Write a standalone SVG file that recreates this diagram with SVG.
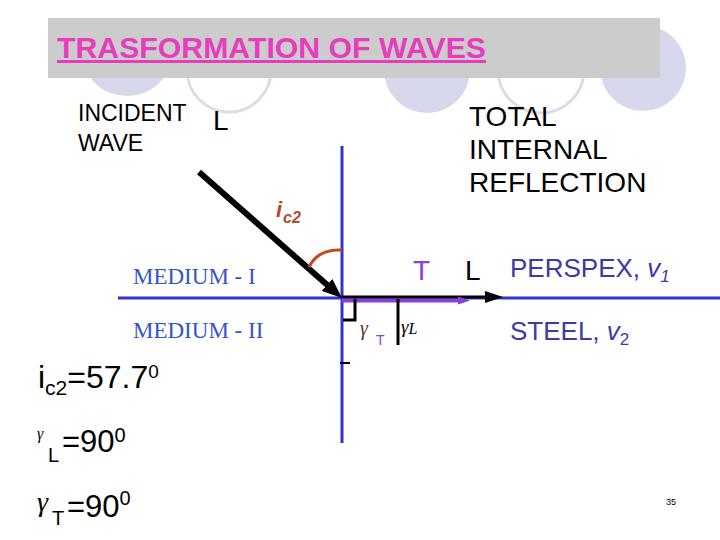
<svg xmlns="http://www.w3.org/2000/svg" width="720" height="540" viewBox="0 0 720 540">
<style>
.deco-f{fill:#d8d8ec;stroke:none}
.deco-o{fill:none;stroke:#dcdce9;stroke-width:3}
.sans{font-family:"Liberation Sans",Arial,sans-serif}
.serif{font-family:"Liberation Serif","Times New Roman",serif}
.blk{fill:#000}
.blue{fill:#3a3aa8}
.med{fill:#3355cc}
.purp{fill:#8a3fd8}
.red{fill:#b84a2a}
</style>
<defs>
<marker id="ahInc" viewBox="0 0 20 16" markerWidth="20" markerHeight="16" refX="8" refY="8" orient="auto" markerUnits="userSpaceOnUse"><path d="M0,0 L20,8 L0,16 z" fill="#000"/></marker>
<marker id="ahL" viewBox="0 0 18 12" markerWidth="18" markerHeight="12" refX="8" refY="6" orient="auto" markerUnits="userSpaceOnUse"><path d="M0,0 L18,6 L0,12 z" fill="#000"/></marker>
<marker id="ahT" viewBox="0 0 12 8" markerWidth="12" markerHeight="8" refX="6" refY="4" orient="auto" markerUnits="userSpaceOnUse"><path d="M0,0 L12,4 L0,8 z" fill="#8a3fd8"/></marker>
</defs>
<rect width="720" height="540" fill="#fff"/>
<g id="decoration">
<ellipse class="deco-f" cx="127" cy="60" rx="42" ry="36"/>
<circle class="deco-o" cx="229" cy="70" r="42"/>
<circle class="deco-f" cx="427" cy="70" r="43"/>
<circle class="deco-o" cx="541" cy="70" r="43"/>
<circle class="deco-f" cx="643" cy="68" r="43"/>
</g>
<g id="title">
<rect x="48" y="18" width="612" height="60" fill="#cccccc"/>
<text x="57" y="58" class="sans" font-size="30" font-weight="bold" fill="#e83cbf" text-decoration="underline" textLength="429" lengthAdjust="spacingAndGlyphs">TRASFORMATION OF WAVES</text>
</g>
<g id="connectors">
<line x1="118" y1="298" x2="720" y2="298" stroke="#3333cc" stroke-width="3"/>
<line x1="342" y1="146" x2="342" y2="443" stroke="#3333cc" stroke-width="3"/>
<line x1="342" y1="297" x2="493" y2="297" stroke="#000" stroke-width="3" marker-end="url(#ahL)"/>
<line x1="342" y1="300.5" x2="464" y2="300.5" stroke="#8a3fd8" stroke-width="4" marker-end="url(#ahT)"/>
<line x1="199" y1="172" x2="333" y2="290.1" stroke="#000" stroke-width="6" marker-end="url(#ahInc)"/>
<path d="M342,250 C326,249 315,255 309,267" fill="none" stroke="#c04a20" stroke-width="3"/>
<polyline points="343,320 355,320 355,299" fill="none" stroke="#000" stroke-width="3"/>
<line x1="398" y1="299" x2="398" y2="345" stroke="#000" stroke-width="3"/>
<line x1="340" y1="363" x2="350" y2="363" stroke="#000" stroke-width="2"/>
</g>
<g id="incident-label">
<text x="78" y="121" class="sans blk" font-size="23">INCIDENT</text>
<text x="78" y="151" class="sans blk" font-size="23">WAVE</text>
<text x="213" y="130" class="sans blk" font-size="28">L</text>
</g>
<g id="tir-label">
<text x="469" y="126" class="sans blk" font-size="28">TOTAL</text>
<text x="469" y="159" class="sans blk" font-size="28">INTERNAL</text>
<text x="469" y="192" class="sans blk" font-size="28">REFLECTION</text>
</g>
<g id="angle-label">
<text x="276" y="217" class="sans red" font-size="22" font-weight="bold" font-style="italic">i</text>
<text x="283" y="223" class="sans red" font-size="16" font-weight="bold" font-style="italic">c2</text>
</g>
<g id="media-labels">
<text x="133" y="284" class="serif med" font-size="23">MEDIUM - I</text>
<text x="133" y="338" class="serif med" font-size="23">MEDIUM - II</text>
</g>
<g id="wave-labels">
<text x="413" y="280" class="sans purp" font-size="28">T</text>
<text x="465" y="280" class="sans blk" font-size="28">L</text>
<text x="360" y="335" class="serif" font-size="20" font-style="italic" fill="#5a3a20">γ</text>
<text x="376" y="345" class="sans purp" font-size="14">T</text>
<text x="401" y="333" class="serif blk" font-size="19" font-style="italic">γ<tspan font-size="16" dy="1">L</tspan></text>
</g>
<g id="material-labels">
<text x="510" y="277" class="sans blue" font-size="26">PERSPEX, <tspan font-style="italic">v</tspan><tspan font-size="17" font-style="italic" dy="5">1</tspan></text>
<text x="510" y="340" class="sans blue" font-size="26">STEEL, <tspan font-style="italic">v</tspan><tspan font-size="17" dy="5">2</tspan></text>
</g>
<g id="values">
<text x="38" y="388" class="sans blk" font-size="32">i<tspan font-size="21" dy="7">c2</tspan><tspan dy="-7">=57.7</tspan><tspan font-size="19" dy="-10">0</tspan></text>
<text x="37" y="439" class="serif blk" font-size="16" font-style="italic">γ</text>
<text x="48" y="462" class="sans blk" font-size="20">L</text>
<text x="62" y="452" class="sans blk" font-size="31">=90<tspan font-size="20" dy="-10">0</tspan></text>
<text x="37" y="511" class="serif blk" font-size="28" font-style="italic">γ</text>
<text x="52" y="525" class="sans blk" font-size="20">T</text>
<text x="67" y="517" class="sans blk" font-size="31">=90<tspan font-size="20" dy="-12">0</tspan></text>
<text x="666" y="505" class="sans blk" font-size="9">35</text>
</g>
</svg>
